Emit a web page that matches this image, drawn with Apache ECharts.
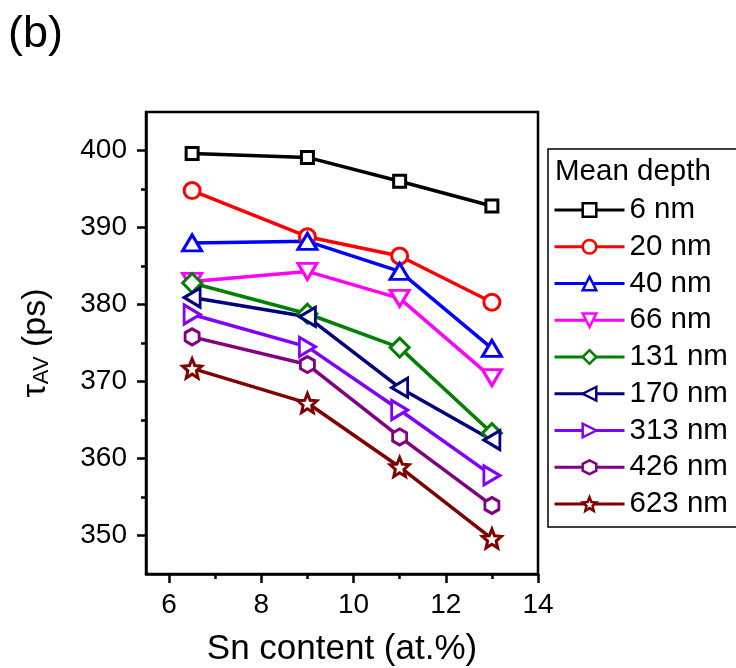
<!DOCTYPE html>
<html>
<head>
<meta charset="utf-8">
<script src="https://cdn.jsdelivr.net/npm/echarts@6/dist/echarts.min.js"></script>
<style>
  html, body { margin: 0; padding: 0; background: #fff; }
  #chart { width: 736px; height: 668px; }
</style>
</head>
<body>
<div id="chart"></div>
<script>
// Sn content (at.%)
const snContent = [6.5, 9, 11, 13];
// mean positron lifetime (ps) per mean depth
const depths = ['6 nm', '20 nm', '40 nm', '66 nm', '131 nm', '170 nm', '313 nm', '426 nm', '623 nm'];
const tau6 = [399.6, 399.1, 396.0, 392.8];
const tau20 = [394.8, 388.8, 386.3, 380.3];
const tau40 = [388.0, 388.2, 384.3, 374.3];
const tau66 = [383.0, 384.3, 380.8, 370.5];
const tau131 = [382.8, 378.8, 374.4, 363.3];
const tau170 = [380.9, 378.4, 369.2, 362.4];
const tau313 = [378.7, 374.5, 366.3, 357.8];
const tau426 = [375.8, 372.2, 362.8, 353.9];
const tau623 = [371.7, 367.2, 358.9, 349.6];
const xMajor = [6, 8, 10, 12, 14];
const xMinor = [7, 9, 11, 13];
const yMajor = [350, 360, 370, 380, 390, 400];
const yMinor = [355, 365, 375, 385, 395];

const FONT = 'Liberation Sans, Arial, sans-serif';

const star = 'path://M10,0 L12.65,6.36 L19.51,6.91 L14.28,11.39 L15.88,18.09 L10,14.5 L4.12,18.09 L5.72,11.39 L0.49,6.91 L7.35,6.36 Z';
const hexagon = 'path://M5,0 L9.33,2.5 L9.33,7.5 L5,10 L0.67,7.5 L0.67,2.5 Z';
const triDown = 'path://M0,0 L10,0 L5,9 Z';
const triLeft = 'path://M9,0 L9,10 L0,5 Z';
const triRight = 'path://M0,0 L0,10 L9,5 Z';

const seriesDefs = [
  { values: tau6, color: '#000000', symbol: 'rect', size: 12 },
  { values: tau20, color: '#ff0000', symbol: 'circle', size: 16 },
  { values: tau40, color: '#0000ff', symbol: 'triangle', size: [19, 16] },
  { values: tau66, color: '#ff00ff', symbol: triDown, size: [19, 16] },
  { values: tau131, color: '#008000', symbol: 'diamond', size: 19 },
  { values: tau170, color: '#000080', symbol: triLeft, size: [16, 19] },
  { values: tau313, color: '#8000ff', symbol: triRight, size: [16, 19] },
  { values: tau426, color: '#800080', symbol: hexagon, size: [14, 16] },
  { values: tau623, color: '#800000', symbol: star, size: 19 }
];

const chart = echarts.init(document.getElementById('chart'), null, { renderer: 'canvas' });

const series = seriesDefs.map((d, i) => ({
  name: depths[i],
  type: 'line',
  xAxisIndex: 0,
  yAxisIndex: 0,
  data: snContent.map((x, j) => [x, d.values[j]]),
  symbol: d.symbol,
  symbolSize: d.size,
  showAllSymbol: true,
  lineStyle: { color: d.color, width: 3.5 },
  itemStyle: { color: '#ffffff', borderColor: d.color, borderWidth: 3 },
  emphasis: { disabled: true },
  animation: false
}));

chart.setOption({
  animation: false,
  textStyle: { fontFamily: FONT, color: '#000' },
  grid: {
    left: 146, right: 198, top: 112, bottom: 94,
    containLabel: false, outerBoundsMode: 'none',
    show: true, borderColor: '#000', borderWidth: 2.5,
    backgroundColor: 'transparent'
  },
  xAxis: [
    {
      type: 'value', min: 5.5, max: 14, position: 'bottom',
      name: 'Sn content (at.%)', nameLocation: 'middle', nameGap: 58,
      nameTextStyle: { fontSize: 35, color: '#000', fontFamily: FONT },
      axisLine: { show: true, lineStyle: { color: '#000', width: 2.5 } },
      axisTick: { show: true, inside: false, length: 9, customValues: xMajor, lineStyle: { color: '#000', width: 2.5 } },
      axisLabel: { customValues: xMajor, fontSize: 28, color: '#000', margin: 17, fontFamily: FONT },
      splitLine: { show: false }
    },
    {
      type: 'value', min: 5.5, max: 14, position: 'bottom', offset: 0,
      axisLine: { show: false },
      axisTick: { show: true, inside: false, length: 5, customValues: xMinor, lineStyle: { color: '#000', width: 2.5 } },
      axisLabel: { show: false },
      splitLine: { show: false }
    }
  ],
  yAxis: [
    {
      type: 'value', min: 345, max: 405, position: 'left',
      name: '{t|τ}{s|AV}{t| (ps)}', nameLocation: 'middle', nameGap: 93, nameRotate: 90,
      nameTextStyle: {
        color: '#000',
        rich: {
          t: { fontSize: 34, fontFamily: FONT, color: '#000' },
          s: { fontSize: 22, fontFamily: FONT, color: '#000', verticalAlign: 'bottom', padding: [10, 0, 0, 0] }
        }
      },
      axisLine: { show: true, lineStyle: { color: '#000', width: 2.5 } },
      axisTick: { show: true, inside: false, length: 9, customValues: yMajor, lineStyle: { color: '#000', width: 2.5 } },
      axisLabel: { customValues: yMajor, fontSize: 28, color: '#000', margin: 19, fontFamily: FONT },
      splitLine: { show: false }
    },
    {
      type: 'value', min: 345, max: 405, position: 'left', offset: 0,
      axisLine: { show: false },
      axisTick: { show: true, inside: false, length: 5, customValues: yMinor, lineStyle: { color: '#000', width: 2.5 } },
      axisLabel: { show: false },
      splitLine: { show: false }
    }
  ],
  legend: {
    orient: 'vertical',
    left: 548, top: 149,
    padding: [46, 9, 8, 5],
    itemWidth: 70, itemHeight: 17, itemGap: 6.75,
    borderColor: '#000', borderWidth: 1.5,
    backgroundColor: '#fff',
    selectedMode: false,
    lineStyle: { width: 3 },
    itemStyle: { borderWidth: 2.5 },
    textStyle: { fontSize: 29.5, lineHeight: 30, color: '#000', fontFamily: FONT },
    data: depths
  },
  graphic: [
    {
      type: 'text', left: 8, top: 12,
      style: { text: '(b)', fontSize: 45, fontFamily: FONT, fill: '#000' }
    },
    {
      type: 'text', left: 555, top: 157, z: 100,
      style: { text: 'Mean depth', fontSize: 29.5, fontFamily: FONT, fill: '#000' }
    }
  ],
  series: series
});
</script>
</body>
</html>
